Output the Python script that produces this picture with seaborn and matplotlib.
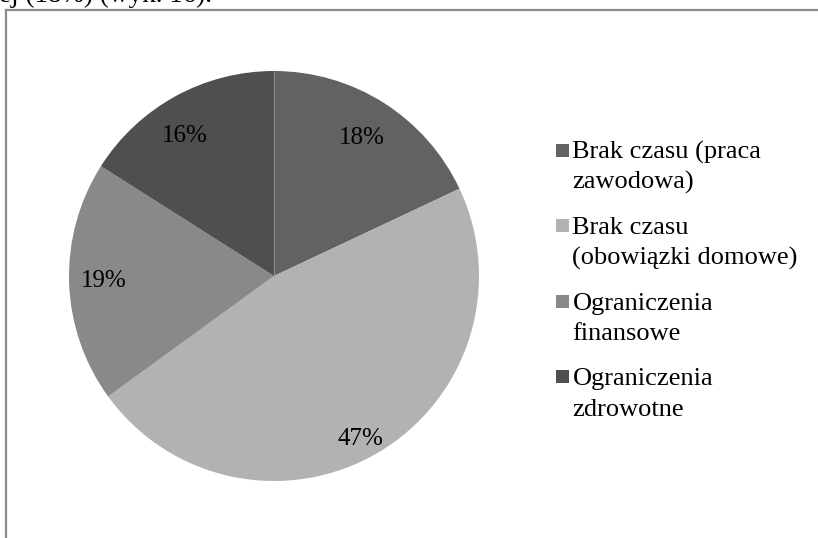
import numpy as np
import matplotlib
matplotlib.use("Agg")
import matplotlib.pyplot as plt
from matplotlib.patches import Rectangle
import seaborn as sns

# Reasons for not taking part (shares of responses)
categories = [
    "Brak czasu (praca\nzawodowa)",
    "Brak czasu\n(obowiązki domowe)",
    "Ograniczenia\nfinansowe",
    "Ograniczenia\nzdrowotne",
]
shares = [18, 47, 19, 16]
slice_colors = ["#626262", "#b2b2b2", "#898989", "#4f4f4f"]
caption_tail = "ej (18%) (wyk. 16)."

sns.set_theme(style="white")
plt.rcParams["font.family"] = ["Liberation Serif", "DejaVu Serif"]

W, H = 818, 538
fig = plt.figure(figsize=(W / 100, H / 100), dpi=100)
fig.patch.set_facecolor("white")

# Chart frame (only top and left edges fall inside the image)
frame = fig.add_axes([6 / W, -0.05, 1.05, 1 - 10 / H + 0.05])
frame.set_xticks([]); frame.set_yticks([])
frame.patch.set_alpha(0)
for side, sp in frame.spines.items():
    sp.set_color("#8c8c8c")
    sp.set_linewidth(1.6)
    sp.set_visible(side in ("top", "left"))

# Trailing part of the preceding text line
fig.text(-1 / W, 1 - 1.5 / H, caption_tail, fontsize=19.5, color="black",
         ha="left", va="baseline")

# Pie
cx, cy, r = 274, 276, 205
ax = fig.add_axes([(cx - r) / W, (H - cy - r) / H, 2 * r / W, 2 * r / H])
wedges, _ = ax.pie(shares, colors=slice_colors, startangle=90, counterclock=False,
                   radius=1, wedgeprops=dict(linewidth=0))
ax.set_xlim(-1, 1); ax.set_ylim(-1, 1)
ax.set_aspect("equal")
ax.axis("off")
ax.vlines(0, 0, 1, color="#8e8e8e", lw=0.8)

label_dist = [0.80, 0.90, 0.83, 0.81]
label_turn = [0, -2.5, 0, 3.5]   # small angular nudges, degrees
for w, v, d, t in zip(wedges, shares, label_dist, label_turn):
    ang = np.deg2rad((w.theta1 + w.theta2) / 2 + t)
    ax.text(d * np.cos(ang), d * np.sin(ang), f"{v}%", ha="center", va="center",
            fontsize=18, color="black")

# Legend drawn entry by entry
first_baseline = 159
step = 75.5
line_gap = 30
for i, (lab, col) in enumerate(zip(categories, slice_colors)):
    base = first_baseline + i * step
    fig.patches.append(Rectangle((556 / W, 1 - (base - 2.5) / H), 13 / W, 13 / H,
                                 transform=fig.transFigure, facecolor=col,
                                 edgecolor="none"))
    for j, line in enumerate(lab.split("\n")):
        fig.text(572.5 / W, 1 - (base + j * line_gap) / H, line, fontsize=19,
                 color="black", ha="left", va="baseline")

fig.savefig("out.png", dpi=100, facecolor="white")
